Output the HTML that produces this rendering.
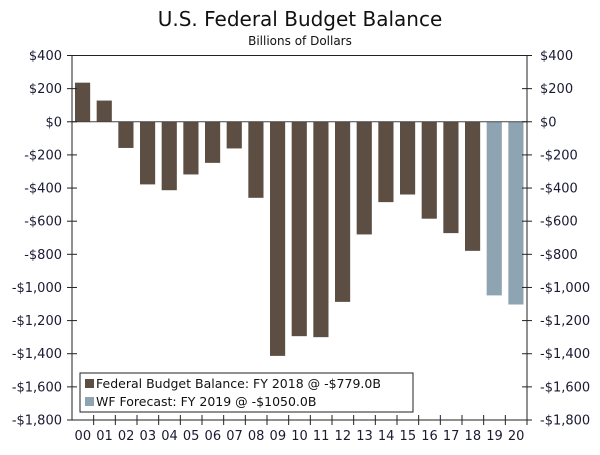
<!DOCTYPE html>
<html><head><meta charset="utf-8">
<style>
html,body{margin:0;padding:0;background:#fff;}
svg text{font-family:"DejaVu Sans","Liberation Sans",sans-serif;}
</style></head>
<body>
<svg id="chart" width="600" height="450" xmlns="http://www.w3.org/2000/svg">
<text x="300" y="26" text-anchor="middle" font-size="20" fill="#111">U.S. Federal Budget Balance</text>
<text x="300" y="45" text-anchor="middle" font-size="12" fill="#111">Billions of Dollars</text>
<g id="grid"></g>
<g id="bars"></g>
<g id="axes"></g>
<g>
<rect x="80" y="373" width="333" height="39" fill="#fff" stroke="#222" stroke-width="1"/>
<rect x="85" y="379" width="9" height="9" fill="#5c4e42"/>
<text x="96" y="388" font-size="12.5" fill="#111">Federal Budget Balance: FY 2018 @ -$779.0B</text>
<rect x="85" y="397" width="9" height="9" fill="#8fa4b3"/>
<text x="96" y="406" font-size="12.5" fill="#111">WF Forecast: FY 2019 @ -$1050.0B</text>
</g>
</svg>
<script>
const categories=["00","01","02","03","04","05","06","07","08","09","10","11","12","13","14","15","16","17","18","19","20"];
const values=[236,128,-158,-378,-413,-318,-248,-161,-459,-1413,-1294,-1300,-1087,-680,-485,-439,-585,-672,-779,-1048,-1103];
const forecastFlags=[0,0,0,0,0,0,0,0,0,0,0,0,0,0,0,0,0,0,0,1,1];
const yTicks=[400,200,0,-200,-400,-600,-800,-1000,-1200,-1400,-1600,-1800];
const yTickLabels=["$400","$200","$0","-$200","-$400","-$600","-$800","-$1,000","-$1,200","-$1,400","-$1,600","-$1,800"];

const NS="http://www.w3.org/2000/svg";
const L=72,R=527,T=55.5,B=420,yMax=400,yMin=-1800;
const y=v=>T+(yMax-v)/(yMax-yMin)*(B-T);
const bw=(R-L)/categories.length;
const x=i=>L+i*bw;
function mk(tag,attrs,parent){const e=document.createElementNS(NS,tag);for(const k in attrs)e.setAttribute(k,attrs[k]);parent.appendChild(e);return e;}
const bars=document.getElementById('bars'),axes=document.getElementById('axes');
values.forEach((v,i)=>{
  const y0=y(0),y1=y(v);
  const r=mk('rect',{x:x(i)+3,y:Math.min(y0,y1),width:bw-6.5,height:Math.abs(y1-y0),fill:forecastFlags[i]?'#8fa4b3':'#5c4e42'},bars);
  
  
});
// zero line
const z=mk('line',{x1:L,x2:R,y1:y(0),y2:y(0),stroke:'#444','stroke-width':1},axes);


const la=mk('line',{x1:L,x2:L,y1:T,y2:B,stroke:'#222','stroke-width':1},axes);


const ra=mk('line',{x1:R,x2:R,y1:T,y2:B,stroke:'#222','stroke-width':1},axes);


const ta=mk('line',{x1:L,x2:R,y1:T,y2:T,stroke:'#222','stroke-width':1},axes);


const ba=mk('line',{x1:L,x2:R,y1:B,y2:B,stroke:'#222','stroke-width':1},axes);


yTicks.forEach((t,i)=>{
  const yy=y(t);
  mk('line',{x1:L-5,x2:L+5,y1:yy,y2:yy,stroke:'#222'},axes);
  mk('line',{x1:R-5,x2:R+5,y1:yy,y2:yy,stroke:'#222'},axes);
  const a=mk('text',{x:L-10,y:yy+4.5,'text-anchor':'end','font-size':13,fill:'#1a1a33'},axes);
  a.textContent=yTickLabels[i];
  
  
  const b=mk('text',{x:R+13,y:yy+4.5,'text-anchor':'start','font-size':13,fill:'#1a1a33'},axes);
  b.textContent=yTickLabels[i];
  
  
});
categories.forEach((c,i)=>{
  mk('line',{x1:x(i+1),x2:x(i+1),y1:B-5,y2:B+5,stroke:'#222'},axes);
  const t=mk('text',{x:x(i)+bw/2,y:B+20,'text-anchor':'middle','font-size':13,fill:'#1a1a33'},axes);
  t.textContent=c;
  
  
});
</script>
</body></html>
